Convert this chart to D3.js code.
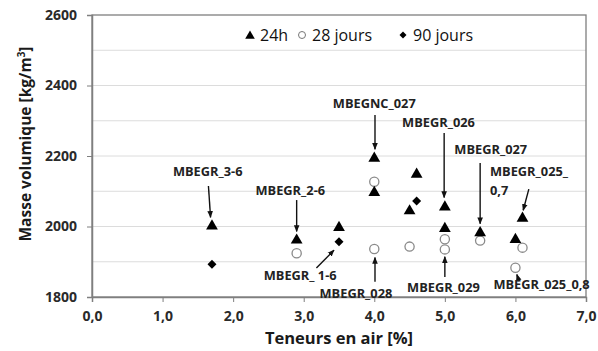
<!DOCTYPE html>
<html><head><meta charset="utf-8">
<script src="https://cdn.jsdelivr.net/npm/d3@7"></script>
<style>body{margin:0;background:#fff}svg{display:block}</style>
</head><body>
<svg id="c" width="598" height="351"></svg>
<script>
// Data
const x24h = [1.7, 2.9, 3.5, 4.0, 4.0, 4.5, 4.6, 5.0, 5.0, 5.5, 6.0, 6.1];
const y24h = [2004, 1964, 2000, 2196, 2099, 2047, 2151, 2058, 1997, 1985, 1966, 2026];
const x28j = [2.9, 4.0, 4.0, 4.5, 5.0, 5.0, 5.5, 6.0, 6.1];
const y28j = [1924, 2127, 1936, 1943, 1964, 1935, 1960, 1883, 1940];
const x90j = [1.7, 3.5, 4.6];
const y90j = [1893, 1957, 2072];
const xTicks = [0, 1, 2, 3, 4, 5, 6, 7];
const yTicks = [1800, 2000, 2200, 2400, 2600];
const yGrid = [1900, 2000, 2100, 2200, 2300, 2400, 2500];
const seriesNames = ["24h", "28 jours", "90 jours"];

// Annotations (label text, label anchor, arrow from/to in data units)
const annotations = [
  {lines:["MBEGR_3-6"], lx:1.64, ly:2155, anchor:"middle", a:[1.65,2115,1.68,2026]},
  {lines:["MBEGR_2-6"], lx:2.81, ly:2101, anchor:"middle", a:[2.90,2075,2.90,1986]},
  {lines:["MBEGR_ 1-6"], lx:2.95, ly:1862, anchor:"middle", a:[3.18,1882,3.43,1933]},
  {lines:["MBEGNC_027"], lx:4.00, ly:2348, anchor:"middle", a:[4.01,2316,4.01,2219]},
  {lines:["MBEGR_026"], lx:4.91, ly:2294, anchor:"middle", a:[4.99,2265,4.99,2082]},
  {lines:["MBEGR_027"], lx:5.65, ly:2217, anchor:"middle", a:[5.50,2180,5.50,2008]},
  {lines:["MBEGR_025_","0,7"], lx:5.64, ly:2155, anchor:"start", a:[6.19,2106,6.11,2046]},
  {lines:["MBEGR_028"], lx:3.74, ly:1811, anchor:"middle", a:[4.01,1843,4.01,1912]},
  {lines:["MBEGR_029"], lx:4.98, ly:1826, anchor:"middle", a:[5.00,1857,5.00,1914]},
  {lines:["MBEGR_025_0,8"], lx:6.37, ly:1834, anchor:"middle", a:[6.05,1845,6.02,1864]}
];

const svg = d3.select("#c");
const L = 92, R = 586, T = 15, B = 297;
const x = d3.scaleLinear().domain([0, 7]).range([L, R]);
const y = d3.scaleLinear().domain([1800, 2600]).range([B, T]);
const font = "'Open Sans', 'Liberation Sans', sans-serif";

svg.append("defs").append("marker")
  .attr("id", "ah").attr("viewBox", "0 0 10 10").attr("refX", 9).attr("refY", 5)
  .attr("markerWidth", 7).attr("markerHeight", 7).attr("markerUnits", "userSpaceOnUse")
  .attr("orient", "auto")
  .append("path").attr("d", "M0,1 L10,5 L0,9 Z").attr("fill", "#111");

// gridlines
svg.append("g").selectAll("line").data(yGrid).join("line")
  .attr("x1", L).attr("x2", R).attr("y1", d => y(d)).attr("y2", d => y(d))
  .attr("stroke", "#dcdcdc").attr("stroke-width", 1);

// frame
svg.append("rect").attr("x", L).attr("y", T).attr("width", R - L).attr("height", B - T)
  .attr("fill", "none").attr("stroke", "#7f7f7f").attr("stroke-width", 1.3);

// axes
const xAxis = svg.append("g").attr("transform", `translate(0,${B})`)
  .call(d3.axisBottom(x).tickValues(xTicks).tickSize(5).tickPadding(9)
    .tickFormat(d => d3.format(".1f")(d).replace(".", ",")));
const yAxis = svg.append("g").attr("transform", `translate(${L},0)`)
  .call(d3.axisLeft(y).tickValues(yTicks).tickSize(5).tickPadding(10).tickFormat(d3.format("d")));
[xAxis, yAxis].forEach(g => {
  g.select(".domain").attr("stroke", "#7f7f7f").attr("stroke-width", 1.5);
  g.selectAll(".tick line").attr("stroke", "#7f7f7f");
  g.selectAll(".tick text").attr("font-family", font).attr("font-weight", "bold")
    .attr("font-size", 14).attr("fill", "#2a2a2a");
});

// axis titles
svg.append("text").attr("x", 339).attr("y", 344).attr("text-anchor", "middle")
  .attr("font-family", font).attr("font-weight", "bold").attr("font-size", 16.5).attr("fill", "#1a1a1a")
  .text("Teneurs en air [%]");
const yt = svg.append("text").attr("transform", "translate(31,144) rotate(-90)")
  .attr("text-anchor", "middle").attr("font-family", font).attr("font-weight", "bold")
  .attr("font-size", 15.5).attr("fill", "#1a1a1a");
yt.append("tspan").text("Masse volumique  [kg/m");
yt.append("tspan").attr("font-size", 10).attr("dy", -6).text("3");
yt.append("tspan").attr("dy", 6).text("]");

// markers
const tri = d3.symbol().type(d3.symbolTriangle).size(60);
const dia = (cx, cy, s) => `M${cx},${cy - s}L${cx + s},${cy}L${cx},${cy + s}L${cx - s},${cy}Z`;

const d24 = x24h.map((v, i) => [v, y24h[i]]);
const d28 = x28j.map((v, i) => [v, y28j[i]]);
const d90 = x90j.map((v, i) => [v, y90j[i]]);

svg.append("g").selectAll("circle").data(d28).join("circle")
  .attr("cx", d => x(d[0])).attr("cy", d => y(d[1])).attr("r", 4.6)
  .attr("fill", "#fff").attr("stroke", "#8a8a8a").attr("stroke-width", 1.3);
svg.append("g").selectAll("path").data(d24).join("path")
  .attr("d", tri).attr("transform", d => `translate(${x(d[0])},${y(d[1]) + 1})`).attr("fill", "#000");
svg.append("g").selectAll("path").data(d90).join("path")
  .attr("d", d => dia(x(d[0]), y(d[1]), 4.5)).attr("fill", "#000");

// annotations
const ag = svg.append("g");
annotations.forEach(a => {
  ag.append("line").attr("x1", x(a.a[0])).attr("y1", y(a.a[1])).attr("x2", x(a.a[2])).attr("y2", y(a.a[3]))
    .attr("stroke", "#111").attr("stroke-width", 1.4).attr("marker-end", "url(#ah)");
  a.lines.forEach((s, i) => {
    ag.append("text").attr("x", x(a.lx)).attr("y", y(a.ly) + i * 18.5).attr("dy", "0.35em")
      .attr("text-anchor", a.anchor).attr("font-family", font).attr("font-weight", "bold")
      .attr("font-size", 12.8).attr("fill", "#222").text(s);
  });
});

// legend
const lg = svg.append("g").attr("font-family", font).attr("font-size", 16).attr("fill", "#111");
const legX = [250, 302, 403];
const legY = 35;
lg.append("path").attr("d", d3.symbol().type(d3.symbolTriangle).size(40)).attr("transform", `translate(${legX[0]},${legY + 1})`).attr("fill", "#000");
lg.append("circle").attr("cx", legX[1]).attr("cy", legY).attr("r", 3.5).attr("fill", "#fff").attr("stroke", "#777").attr("stroke-width", 1);
lg.append("path").attr("d", dia(legX[2], legY, 3.5)).attr("fill", "#000");
seriesNames.forEach((s, i) => {
  lg.append("text").attr("x", legX[i] + 10).attr("y", legY).attr("dy", "0.35em").text(s);
});
</script>
</body></html>
